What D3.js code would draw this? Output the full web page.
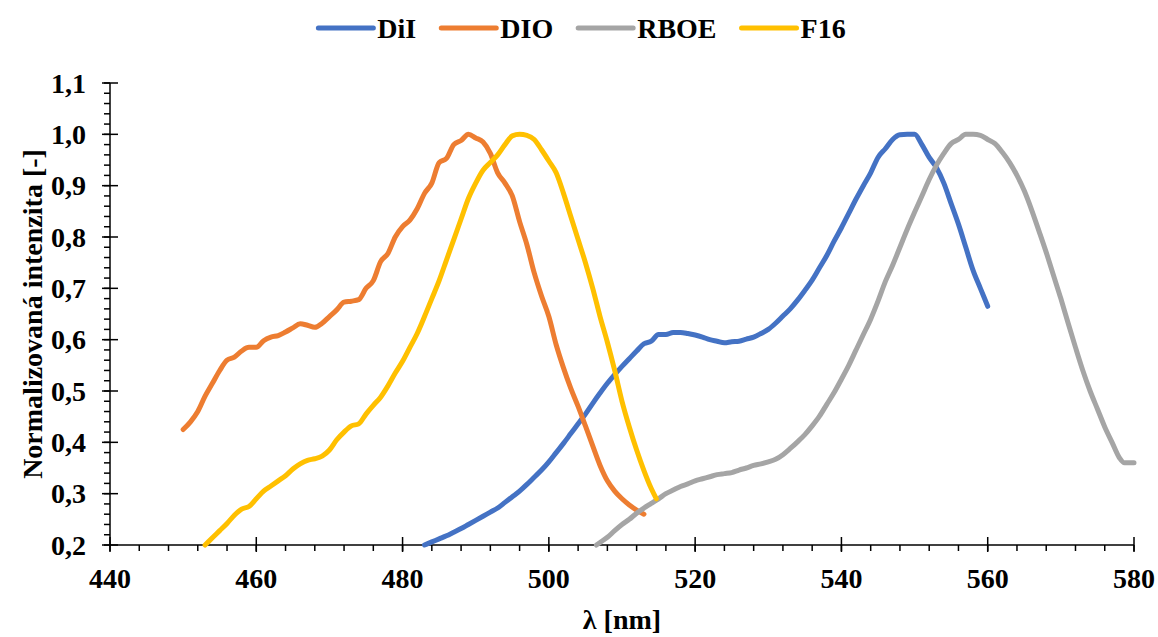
<!DOCTYPE html>
<html>
<head>
<meta charset="utf-8">
<script src="https://cdn.jsdelivr.net/npm/d3@7"></script>
<style>
  html, body { margin: 0; padding: 0; background: #fff; }
  svg text { font-family: "Liberation Serif", "Times New Roman", serif; font-weight: bold; fill: #000; }
</style>
</head>
<body>
<svg id="chart" width="1158" height="637"></svg>
<script>
// ---------- DATA ----------
const seriesNames = ["DiI", "DIO", "RBOE", "F16"];
const seriesColors = ["#4472C4", "#ED7D31", "#A5A5A5", "#FFC000"];

const xTicks = [440, 460, 480, 500, 520, 540, 560, 580];
const yTicks = [0.2, 0.3, 0.4, 0.5, 0.6, 0.7, 0.8, 0.9, 1.0, 1.1];
const xTitle = "λ [nm]";
const yTitle = "Normalizovaná intenzita [-]";

const dilX = [483,484,485,486,487,488,489,490,491,492,493,494,495,496,497,498,499,500,501,502,503,504,505,506,507,508,509,510,511,512,513,514,515,516,517,518,519,520,521,522,523,524,525,526,527,528,529,530,531,532,533,534,535,536,537,538,539,540,541,542,543,544,545,546,547,548,549,550,551,552,553,554,555,556,557,558,559,560];
const dilY = [0.200,0.206,0.212,0.218,0.225,0.232,0.240,0.248,0.256,0.264,0.272,0.283,0.294,0.305,0.318,0.332,0.346,0.362,0.380,0.398,0.417,0.436,0.455,0.476,0.496,0.515,0.532,0.548,0.563,0.578,0.592,0.597,0.610,0.610,0.614,0.614,0.612,0.609,0.605,0.600,0.597,0.594,0.596,0.597,0.601,0.605,0.612,0.620,0.632,0.646,0.660,0.677,0.696,0.716,0.740,0.764,0.792,0.818,0.846,0.874,0.900,0.925,0.955,0.972,0.990,0.999,1.000,1.000,0.980,0.955,0.935,0.905,0.865,0.825,0.780,0.735,0.700,0.665];

const dioX = [450,451,452,453,454,455,456,457,458,459,460,461,462,463,464,465,466,467,468,469,470,471,472,473,474,475,476,477,478,479,480,481,482,483,484,485,486,487,488,489,490,491,492,493,494,495,496,497,498,499,500,501,502,503,504,505,506,507,508,509,510,511,512,513];
const dioY = [0.425,0.440,0.460,0.490,0.515,0.540,0.560,0.566,0.578,0.585,0.585,0.598,0.605,0.608,0.615,0.623,0.631,0.628,0.624,0.632,0.645,0.658,0.673,0.675,0.678,0.700,0.715,0.752,0.768,0.800,0.820,0.833,0.855,0.885,0.905,0.945,0.953,0.980,0.988,1.000,0.993,0.985,0.963,0.925,0.905,0.880,0.830,0.785,0.730,0.685,0.645,0.590,0.545,0.505,0.470,0.432,0.393,0.355,0.325,0.305,0.290,0.278,0.268,0.260];

const rboeX = [506.5,507,508,509,510,511,512,513,514,515,516,517,518,519,520,521,522,523,524,525,526,527,528,529,530,531,532,533,534,535,536,537,538,539,540,541,542,543,544,545,546,547,548,549,550,551,552,553,554,555,556,557,558,559,560,561,562,563,564,565,566,567,568,569,570,571,572,573,574,575,576,577,578,578.7,580];
const rboeY = [0.200,0.205,0.215,0.228,0.240,0.250,0.262,0.272,0.281,0.290,0.300,0.307,0.314,0.319,0.325,0.329,0.333,0.337,0.339,0.341,0.346,0.350,0.355,0.358,0.362,0.367,0.376,0.388,0.401,0.415,0.432,0.451,0.474,0.497,0.523,0.550,0.580,0.610,0.640,0.675,0.713,0.745,0.780,0.815,0.848,0.880,0.912,0.940,0.963,0.982,0.990,1.000,1.000,0.998,0.990,0.982,0.965,0.945,0.920,0.890,0.853,0.812,0.770,0.725,0.680,0.632,0.585,0.540,0.500,0.465,0.430,0.400,0.370,0.360,0.360];

const f16X = [453,454,455,456,457,458,459,460,461,462,463,464,465,466,467,468,469,470,471,472,473,474,475,476,477,478,479,480,481,482,483,484,485,486,487,488,489,490,491,492,493,494,495,496,497,498,499,500,501,502,503,504,505,506,507,508,509,510,511,512,513,514,514.7];
const f16Y = [0.200,0.214,0.228,0.242,0.258,0.270,0.275,0.290,0.305,0.315,0.325,0.335,0.348,0.358,0.365,0.368,0.373,0.385,0.405,0.420,0.432,0.436,0.455,0.472,0.488,0.510,0.535,0.558,0.585,0.612,0.645,0.680,0.715,0.755,0.795,0.835,0.875,0.905,0.930,0.945,0.960,0.980,0.997,1.000,0.998,0.990,0.970,0.948,0.925,0.885,0.840,0.795,0.750,0.700,0.645,0.595,0.540,0.480,0.430,0.385,0.345,0.310,0.290];

const seriesX = [dilX, dioX, rboeX, f16X];
const seriesY = [dilY, dioY, rboeY, f16Y];

// ---------- CHART ----------
const svg = d3.select("#chart");
const x = d3.scaleLinear().domain([440, 580]).range([110, 1134]);
const y = d3.scaleLinear().domain([0.2, 1.1]).range([545, 83]);
const fmtY = v => d3.format(".1f")(v).replace(".", ",");
const FS = 28;

// Axes lines
const axisG = svg.append("g").attr("stroke", "#000").attr("stroke-width", 1.5);
axisG.append("line").attr("x1", x(440)).attr("x2", x(580)).attr("y1", y(0.2)).attr("y2", y(0.2));
axisG.append("line").attr("x1", x(440)).attr("x2", x(440)).attr("y1", y(0.2)).attr("y2", y(1.1));

// x minor ticks (every 4 nm) below axis
const xMinor = d3.range(440, 580.1, 4);
axisG.selectAll(".xm").data(xMinor).enter().append("line")
  .attr("x1", d => x(d)).attr("x2", d => x(d))
  .attr("y1", y(0.2)).attr("y2", y(0.2) + 6);
// x major ticks crossing
axisG.selectAll(".xM").data(xTicks).enter().append("line")
  .attr("x1", d => x(d)).attr("x2", d => x(d))
  .attr("y1", y(0.2) - 8).attr("y2", y(0.2) + 7);

// y minor ticks every 0.02 on left
const yMinor = d3.range(0.2, 1.1001, 0.02);
axisG.selectAll(".ym").data(yMinor).enter().append("line")
  .attr("x1", x(440) - 6).attr("x2", x(440))
  .attr("y1", d => y(d)).attr("y2", d => y(d));
// y major ticks crossing
axisG.selectAll(".yM").data(yTicks).enter().append("line")
  .attr("x1", x(440) - 8).attr("x2", x(440) + 8)
  .attr("y1", d => y(d)).attr("y2", d => y(d));

// Tick labels
svg.selectAll(".xl").data(xTicks).enter().append("text")
  .attr("x", d => x(d)).attr("y", 588)
  .attr("text-anchor", "middle").attr("font-size", FS)
  .text(d => d);
svg.selectAll(".yl").data(yTicks).enter().append("text")
  .attr("x", 86).attr("y", d => y(d) + 9.5)
  .attr("text-anchor", "end").attr("font-size", FS)
  .text(d => fmtY(d));

// Axis titles
svg.append("text").attr("x", (x(440) + x(580)) / 2).attr("y", 629)
  .attr("text-anchor", "middle").attr("font-size", FS).text(xTitle);
svg.append("text")
  .attr("transform", `translate(42,${(y(0.2) + y(1.1)) / 2}) rotate(-90)`)
  .attr("text-anchor", "middle").attr("font-size", FS).text(yTitle);

// Lines
const line = d3.line().curve(d3.curveMonotoneX);
seriesNames.forEach((name, i) => {
  const pts = seriesX[i].map((xv, j) => [x(xv), y(seriesY[i][j])]);
  svg.append("path")
    .attr("d", line(pts))
    .attr("fill", "none")
    .attr("stroke", seriesColors[i])
    .attr("stroke-width", 5)
    .attr("stroke-linecap", "round")
    .attr("stroke-linejoin", "round");
});

// Legend
const legG = svg.append("g");
const lineLen = 55, textGap = 4, itemGap = 25;
let cx = 0;
seriesNames.forEach((name, i) => {
  const g = legG.append("g");
  g.append("line").attr("x1", cx).attr("x2", cx + lineLen).attr("y1", 0).attr("y2", 0)
    .attr("stroke", seriesColors[i]).attr("stroke-width", 5).attr("stroke-linecap", "round");
  const t = g.append("text").attr("x", cx + lineLen + textGap).attr("y", 10)
    .attr("font-size", FS).text(name);
  const w = t.node().getComputedTextLength();
  cx += lineLen + textGap + w + itemGap;
});
const totalW = cx - itemGap;
legG.attr("transform", `translate(${582 - totalW / 2},28)`);
</script>
</body>
</html>
